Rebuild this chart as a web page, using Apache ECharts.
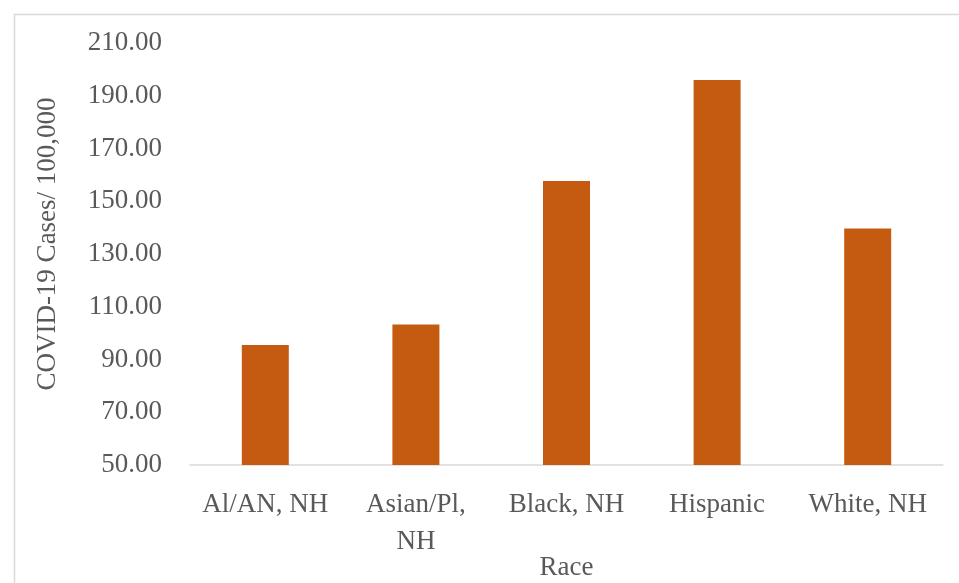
<!DOCTYPE html>
<html>
<head>
<meta charset="utf-8">
<script src="https://cdn.jsdelivr.net/npm/echarts@6/dist/echarts.min.js"></script>
<style>
html,body{margin:0;padding:0;background:#fff;overflow:hidden;}
#chart{width:959px;height:583px;}
</style>
</head>
<body>
<div id="chart"></div>
<script>
const categories = ['Al/AN, NH', 'Asian/Pl, NH', 'Black, NH', 'Hispanic', 'White, NH'];
const caseRates = [95.5, 103.3, 157.7, 196.0, 139.7];
const yMin = 50, yMax = 210, yStep = 20;
const yTitle = 'COVID-19 Cases/ 100,000';
const xTitle = 'Race';

const FONT = '"Liberation Serif", "DejaVu Serif", serif';
const chart = echarts.init(document.getElementById('chart'), null, {renderer: 'canvas'});
chart.setOption({
  animation: false,
  backgroundColor: '#ffffff',
  graphic: [{
    type: 'rect', left: 12, top: 12,
    shape: {width: 1000, height: 1000},
    style: {fill: 'none', stroke: '#D9D9D9', lineWidth: 1.5},
    silent: true
  }],
  grid: {left: 190, right: 16, top: 43, bottom: 118, containLabel: false, outerBoundsMode: 'none'},
  xAxis: {
    type: 'category',
    data: categories,
    name: xTitle,
    nameLocation: 'middle',
    nameGap: 89,
    nameMoveOverlap: false,
    nameTextStyle: {fontFamily: FONT, fontSize: 27, color: '#595959'},
    axisLine: {show: true, lineStyle: {color: '#D9D9D9', width: 1.5}},
    axisTick: {show: false},
    axisLabel: {
      interval: 0,
      fontFamily: FONT, fontSize: 27, color: '#595959',
      lineHeight: 37, margin: 21,
      formatter: v => v === 'Asian/Pl, NH' ? 'Asian/Pl,\nNH' : v
    },
    splitLine: {show: false}
  },
  yAxis: {
    type: 'value',
    min: yMin, max: yMax, interval: yStep,
    name: yTitle,
    nameLocation: 'middle',
    nameGap: 129,
    nameMoveOverlap: false,
    nameRotate: 90,
    nameTextStyle: {fontFamily: FONT, fontSize: 27, color: '#595959', padding: [0, 0, 0, 20]},
    axisLine: {show: false},
    axisTick: {show: false},
    splitLine: {show: false},
    axisLabel: {
      fontFamily: FONT, fontSize: 27, color: '#595959', margin: 28,
      formatter: v => v.toFixed(2)
    }
  },
  series: [{
    type: 'bar',
    data: caseRates,
    barWidth: 47,
    itemStyle: {color: '#C55A11'}
  }]
});
</script>
</body>
</html>
